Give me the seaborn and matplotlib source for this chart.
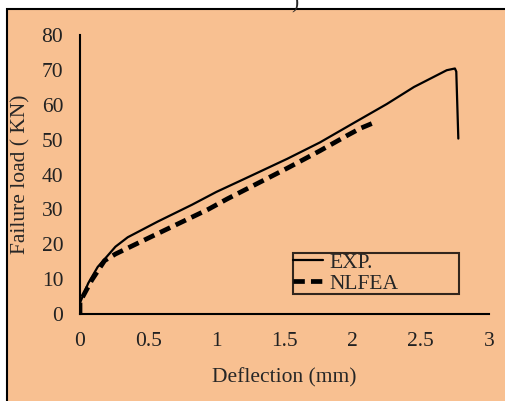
import matplotlib
matplotlib.use("Agg")
import matplotlib.pyplot as plt
import seaborn as sns
import pandas as pd
from matplotlib.patches import Rectangle

# data
exp_x = [0, 0.0, 0.06, 0.13, 0.2, 0.26, 0.35, 0.57, 0.82, 1.0, 1.22, 1.52, 1.76, 2.0,
         2.25, 2.45, 2.69, 2.75, 2.76, 2.775]
exp_y = [0, 3.2, 8.8, 13.5, 16.6, 19.3, 22, 26.5, 31.3, 35, 39, 44.5, 49.2, 54.6,
         60.2, 65.1, 69.9, 70.4, 69.5, 50.3]
fea_x = [0, 0.0, 0.086, 0.18, 0.26, 0.45, 0.7, 0.94, 1.08, 1.27, 1.52, 1.76, 1.96, 2.06, 2.14]
fea_y = [0, 3.5, 9.7, 15.3, 17.2, 20.8, 25.5, 30, 33, 36.8, 41.8, 46.8, 51.2, 53.3, 54.6]

xticks = [0, 0.5, 1, 1.5, 2, 2.5, 3]
xlabels = ["0", "0.5", "1", "1.5", "2", "2.5", "3"]
yticks = [0, 10, 20, 30, 40, 50, 60, 70, 80]

peach = "#F8C091"
fs = 15.5
sns.set_style("white")
plt.rcParams["font.family"] = ["Liberation Serif", "DejaVu Serif"]

fig = plt.figure(figsize=(5.06, 4.01), dpi=100)
fig.patch.set_facecolor("white")
bg = Rectangle((7 / 506, -0.05), 1.1, (401 - 9) / 401 + 0.05, transform=fig.transFigure,
               facecolor=peach, edgecolor="black", linewidth=1.5, zorder=-5)
fig.patches.append(bg)
fig.text(295 / 506, 1 + 6 / 401, ")", fontsize=fs, ha="center", va="top", zorder=-4)

ax = fig.add_axes([80 / 506, 1 - 314 / 401, (489 - 80) / 506, (314 - 35) / 401])
ax.set_facecolor("none")
ax.set_zorder(2)

df_exp = pd.DataFrame({"x": exp_x, "y": exp_y})
df_fea = pd.DataFrame({"x": fea_x, "y": fea_y})
sns.lineplot(data=df_exp, x="x", y="y", ax=ax, color="black", linewidth=1.6,
             sort=False, estimator=None, label="EXP.")
sns.lineplot(data=df_fea, x="x", y="y", ax=ax, color="black", linewidth=3.4,
             sort=False, estimator=None, label="NLFEA", linestyle=(0, (2.4, 1.3)))

ax.set_xlim(0, 3)
ax.set_ylim(0, 80)
ax.set_xticks(xticks)
ax.set_xticklabels(xlabels)
ax.set_yticks(yticks)
ax.tick_params(axis="both", length=0, labelsize=fs, colors="#222222")
ax.tick_params(axis="x", pad=13)
ax.tick_params(axis="y", pad=12)
for s in ["top", "right"]:
    ax.spines[s].set_visible(False)
for s in ["left", "bottom"]:
    ax.spines[s].set_color("black")
    ax.spines[s].set_linewidth(1.5)

ax.set_xlabel("Deflection (mm)", fontsize=fs, labelpad=12)
ax.set_ylabel("Failure load ( KN)", fontsize=fs, labelpad=8)

leg = ax.legend(loc="lower left", bbox_to_anchor=((293 - 80) / 409, (314 - 294) / 279,
                                                   (459 - 293) / 409, (294 - 245) / 279),
                mode="expand", fontsize=fs, frameon=True, fancybox=False,
                handlelength=1.4, handletextpad=0.3, borderpad=0.0, labelspacing=0.05,
                borderaxespad=0, alignment="left")
leg.get_frame().set_edgecolor("black")
leg.get_frame().set_linewidth(1.5)
leg.get_frame().set_facecolor("none")

fig.savefig("out.png", dpi=100)
